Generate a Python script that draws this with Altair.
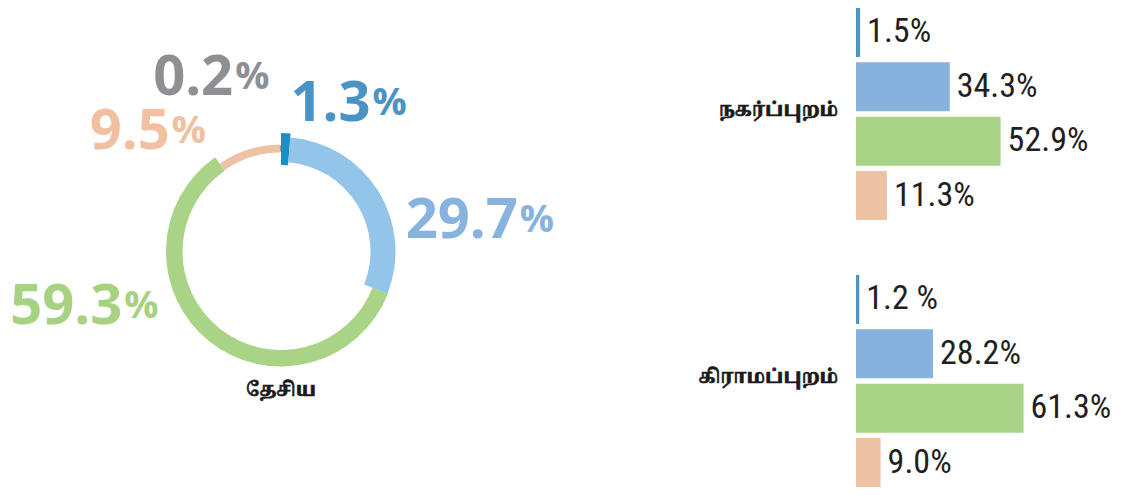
import math
import altair as alt
import pandas as pd

# ---------------- data ----------------
categories = ["k1", "k2", "k3", "k4", "k5"]
national_values = [1.3, 29.7, 59.3, 9.5, 0.2]
national_title = "தேசிய"

groups = ["நகர்ப்புறம்", "கிராமப்புறம்"]
bar_categories = ["k1", "k2", "k3", "k4"]
urban_values = [1.5, 34.3, 52.9, 11.3]
urban_labels = ["1.5%", "34.3%", "52.9%", "11.3%"]
rural_values = [1.2, 28.2, 61.3, 9.0]
rural_labels = ["1.2 %", "28.2%", "61.3%", "9.0%"]

# ---------------- styles ----------------
ring_colors = ["#1f8dc3", "#93c4ea", "#a9d385", "#edc2a4", "#9a9a9a"]
text_colors = ["#4b93c4", "#88b3df", "#a6d282", "#f0c0a0", "#8e8f93"]
bar_colors = ["#4f93c0", "#88b2de", "#a9d386", "#edc1a3"]
ring_radii = [(118.5, 86.5), (114.5, 89.5), (115, 98.5), (107, 99), (106, 100)]
label_offsets = [(84, -13), (122, 41), (-75, -50), (-70, 9), (-47, -39)]
LABEL_R = 135
CX, CY = 273, 243.5
W, H = 1110, 479
TAMIL_FONT = "Noto Serif Tamil, Noto Sans Tamil, Lohit Tamil, FreeSerif, Noto Sans"
NUM_FONT = "Open Sans"
BAR_FONT = "Liberation Sans Narrow, Arial Narrow, Roboto Condensed, Liberation Sans"

nat_df = pd.DataFrame({"cat": categories, "value": national_values,
                       "order": list(range(len(categories)))})

theta_scale = alt.Scale(domain=[0, 100], range=[0, math.tau])

donut_base = alt.Chart(nat_df).transform_window(
    cum="sum(value)", sort=[alt.SortField("order", order="ascending")], frame=[None, 0]
).transform_calculate(
    start="datum.cum - datum.value",
    mid="datum.cum - datum.value / 2",
)

layers = []
for i, cat in enumerate(categories):
    outer, inner = ring_radii[i]
    layers.append(
        donut_base.transform_filter(alt.datum.cat == cat)
        .mark_arc(color=ring_colors[i])
        .encode(
            theta=alt.Theta("start:Q", scale=theta_scale),
            theta2="cum:Q",
            radius=alt.value(outer),
            radius2=alt.value(inner),
            x=alt.value(CX),
            y=alt.value(CY),
        )
    )
for i, cat in enumerate(categories):
    dx, dy = label_offsets[i]
    sel = donut_base.transform_filter(alt.datum.cat == cat)
    layers.append(
        sel.mark_text(font=NUM_FONT, fontWeight="bold", fontSize=56,
                      color=text_colors[i], align="right", dx=dx, dy=dy)
        .encode(theta=alt.Theta("mid:Q", scale=theta_scale),
                radius=alt.value(LABEL_R),
                text=alt.Text("value:Q", format=".1f"),
                x=alt.value(CX), y=alt.value(CY))
    )
    layers.append(
        sel.mark_text(font=NUM_FONT, fontWeight="bold", fontSize=38,
                      color=text_colors[i], align="left", dx=dx + 2, dy=dy)
        .encode(theta=alt.Theta("mid:Q", scale=theta_scale),
                radius=alt.value(LABEL_R),
                text=alt.value("%"),
                x=alt.value(CX), y=alt.value(CY))
    )

title_df = pd.DataFrame({"t": [national_title]})
layers.append(
    alt.Chart(title_df).mark_text(font=TAMIL_FONT, fontWeight="bold", fontSize=19,
                                  color="#1a1a1a", stroke="#1a1a1a", strokeWidth=0.7,
                                  baseline="middle")
    .encode(text="t:N", x=alt.value(CX), y=alt.value(CY + 138))
)

# ---------------- bars ----------------
rows = []
for g, vals, labs in [(groups[0], urban_values, urban_labels),
                      (groups[1], rural_values, rural_labels)]:
    for c, v, l in zip(bar_categories, vals, labs):
        rows.append({"group": g, "cat": c, "value": v, "label": l})
bars_df = pd.DataFrame(rows)
groups_df = pd.DataFrame({"group": groups})

y_enc = alt.Y("group:N", sort=groups, axis=None,
              scale=alt.Scale(domain=groups, paddingInner=0.206, paddingOuter=0))
yoff_enc = alt.YOffset("cat:N", sort=bar_categories,
                       scale=alt.Scale(domain=bar_categories, paddingInner=0.1, paddingOuter=0))
x_scale = alt.Scale(domain=[0, 90], range=[848, 1094])
x_enc = alt.X("value:Q", axis=None, scale=x_scale)

layers.append(
    alt.Chart(bars_df).mark_bar().encode(
        y=y_enc, yOffset=yoff_enc, x=x_enc, x2=alt.datum(0),
        color=alt.Color("cat:N", scale=alt.Scale(domain=bar_categories, range=bar_colors),
                        legend=None),
    )
)
layers.append(
    alt.Chart(bars_df).mark_text(align="left", dx=7, font=BAR_FONT, fontSize=34,
                                 color="#231f20", baseline="middle").encode(
        y=y_enc, yOffset=yoff_enc, x=x_enc, text="label:N"
    )
)
layers.append(
    alt.Chart(groups_df).mark_text(align="right", dx=-18, dy=-4, font=TAMIL_FONT,
                                   fontSize=19, fontWeight="bold", color="#1a1a1a",
                                   stroke="#1a1a1a", strokeWidth=0.7,
                                   baseline="middle").encode(
        y=y_enc, x=alt.datum(0, scale=x_scale), text="group:N"
    )
)

chart = alt.layer(*layers).properties(
    width=W, height=H, padding=0, background="white",
    autosize=alt.AutoSizeParams(type="none"),
).configure_view(stroke=None)

chart.save("out.html", embed_options={"renderer": "svg", "actions": False})
